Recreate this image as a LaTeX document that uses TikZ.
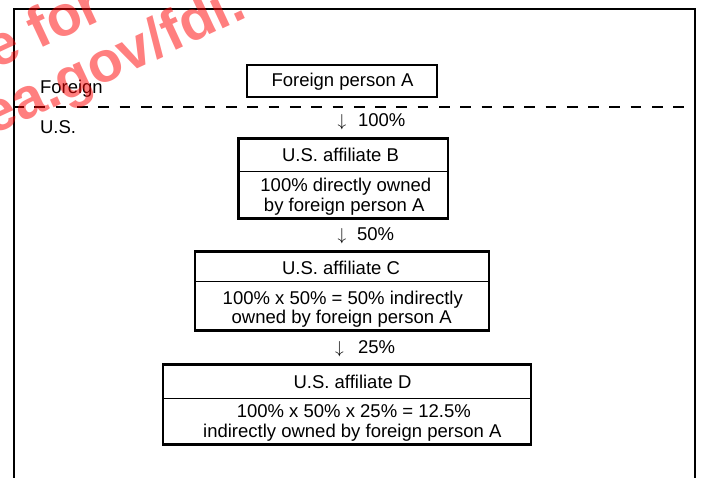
\documentclass[tikz,border=0pt]{standalone}
\usepackage{fontspec}
\setmainfont{Liberation Sans}
\begin{document}
\begin{tikzpicture}[x=1pt,y=1pt,
  every node/.style={font=\fontsize{18.5}{20}\selectfont, inner sep=0pt, outer sep=0pt},
  box/.style={draw, line width=2.6pt, rectangle, inner sep=0pt},
  frameline/.style={line width=2.2pt},
  divline/.style={line width=1pt},
  borderline/.style={line width=2.4pt, dash pattern=on 10.7pt off 10.6pt},
  txt/.style={anchor=base},
  pct/.style={anchor=base west},
  arr/.style={anchor=base, font=\fontsize{17}{17}\selectfont},
  wm/.style={text=red, text opacity=0.5, font=\fontsize{57}{57}\selectfont\bfseries, rotate=25, anchor=base west}
]
\useasboundingbox (0,0) rectangle (701,-478);
\clip (0,0) rectangle (701,-478);

% outer frame (open at the bottom)
\coordinate (fbl) at (14,-482);
\coordinate (ftl) at (14,-9);
\coordinate (ftr) at (695,-9);
\coordinate (fbr) at (695,-482);
\draw[frameline] (fbl) -- (ftl) -- (ftr) -- (fbr);

% border between Foreign and U.S.
\coordinate (dl) at (13,-107);
\coordinate (dr) at (695,-107);
\draw[borderline] (dl) -- (dr);
\node[anchor=base west] (foreign) at (40,-94) {Foreign};
\node[anchor=base west] (us) at (40,-134) {U.S.};

% boxes
\node[box, minimum width=190pt, minimum height=32pt] (boxA) at (342,-81) {};
\node[txt] (tA) at (342.5,-86.5) {Foreign person A};

\node[box, minimum width=209.7pt, minimum height=80pt] (boxB) at (343.2,-178.3) {};
\coordinate (dB) at (0,-171.7);
\draw[divline] (boxB.west |- dB) -- (boxB.east |- dB);
\node[txt] (tB) at (340.5,-161.7) {U.S. affiliate B};
\node[txt] (bB1) at (345.8,-191.7) {100\% directly owned};
\node[txt] (bB2) at (344.2,-211.5) {by foreign person A};

\node[box, minimum width=294pt, minimum height=79pt] (boxC) at (342,-291.2) {};
\coordinate (dC) at (0,-281.7);
\draw[divline] (boxC.west |- dC) -- (boxC.east |- dC);
\node[txt] (tC) at (341,-274.5) {U.S. affiliate C};
\node[txt] (bC1) at (342.8,-304.5) {100\% x 50\% = 50\% indirectly};
\node[txt] (bC2) at (341.7,-323.5) {owned by foreign person A};

\node[box, minimum width=368pt, minimum height=79.5pt] (boxD) at (347,-404.5) {};
\coordinate (dD) at (0,-398.3);
\draw[divline] (boxD.west |- dD) -- (boxD.east |- dD);
\node[txt] (tD) at (352.5,-388) {U.S. affiliate D};
\node[txt] (bD1) at (353.8,-417.5) {100\% x 50\% x 25\% = 12.5\%};
\node[txt] (bD2) at (352.3,-437) {indirectly owned by foreign person A};

% ownership arrows
\node[arr] (aAB) at (342,-127) {$\downarrow$};
\node[pct] (pAB) at (358,-126.7) {100\%};
\node[arr] (aBC) at (342,-241) {$\downarrow$};
\node[pct] (pBC) at (357,-240.7) {50\%};
\node[arr] (aCD) at (339.5,-353.6) {$\downarrow$};
\node[pct] (pCD) at (358,-353.3) {25\%};

% watermark
\node[wm] (wm1) at (-5,-70) {e for};
\node[wm] (wm2) at (-7,-136) {ea.gov/fdi.};
\end{tikzpicture}
\end{document}
